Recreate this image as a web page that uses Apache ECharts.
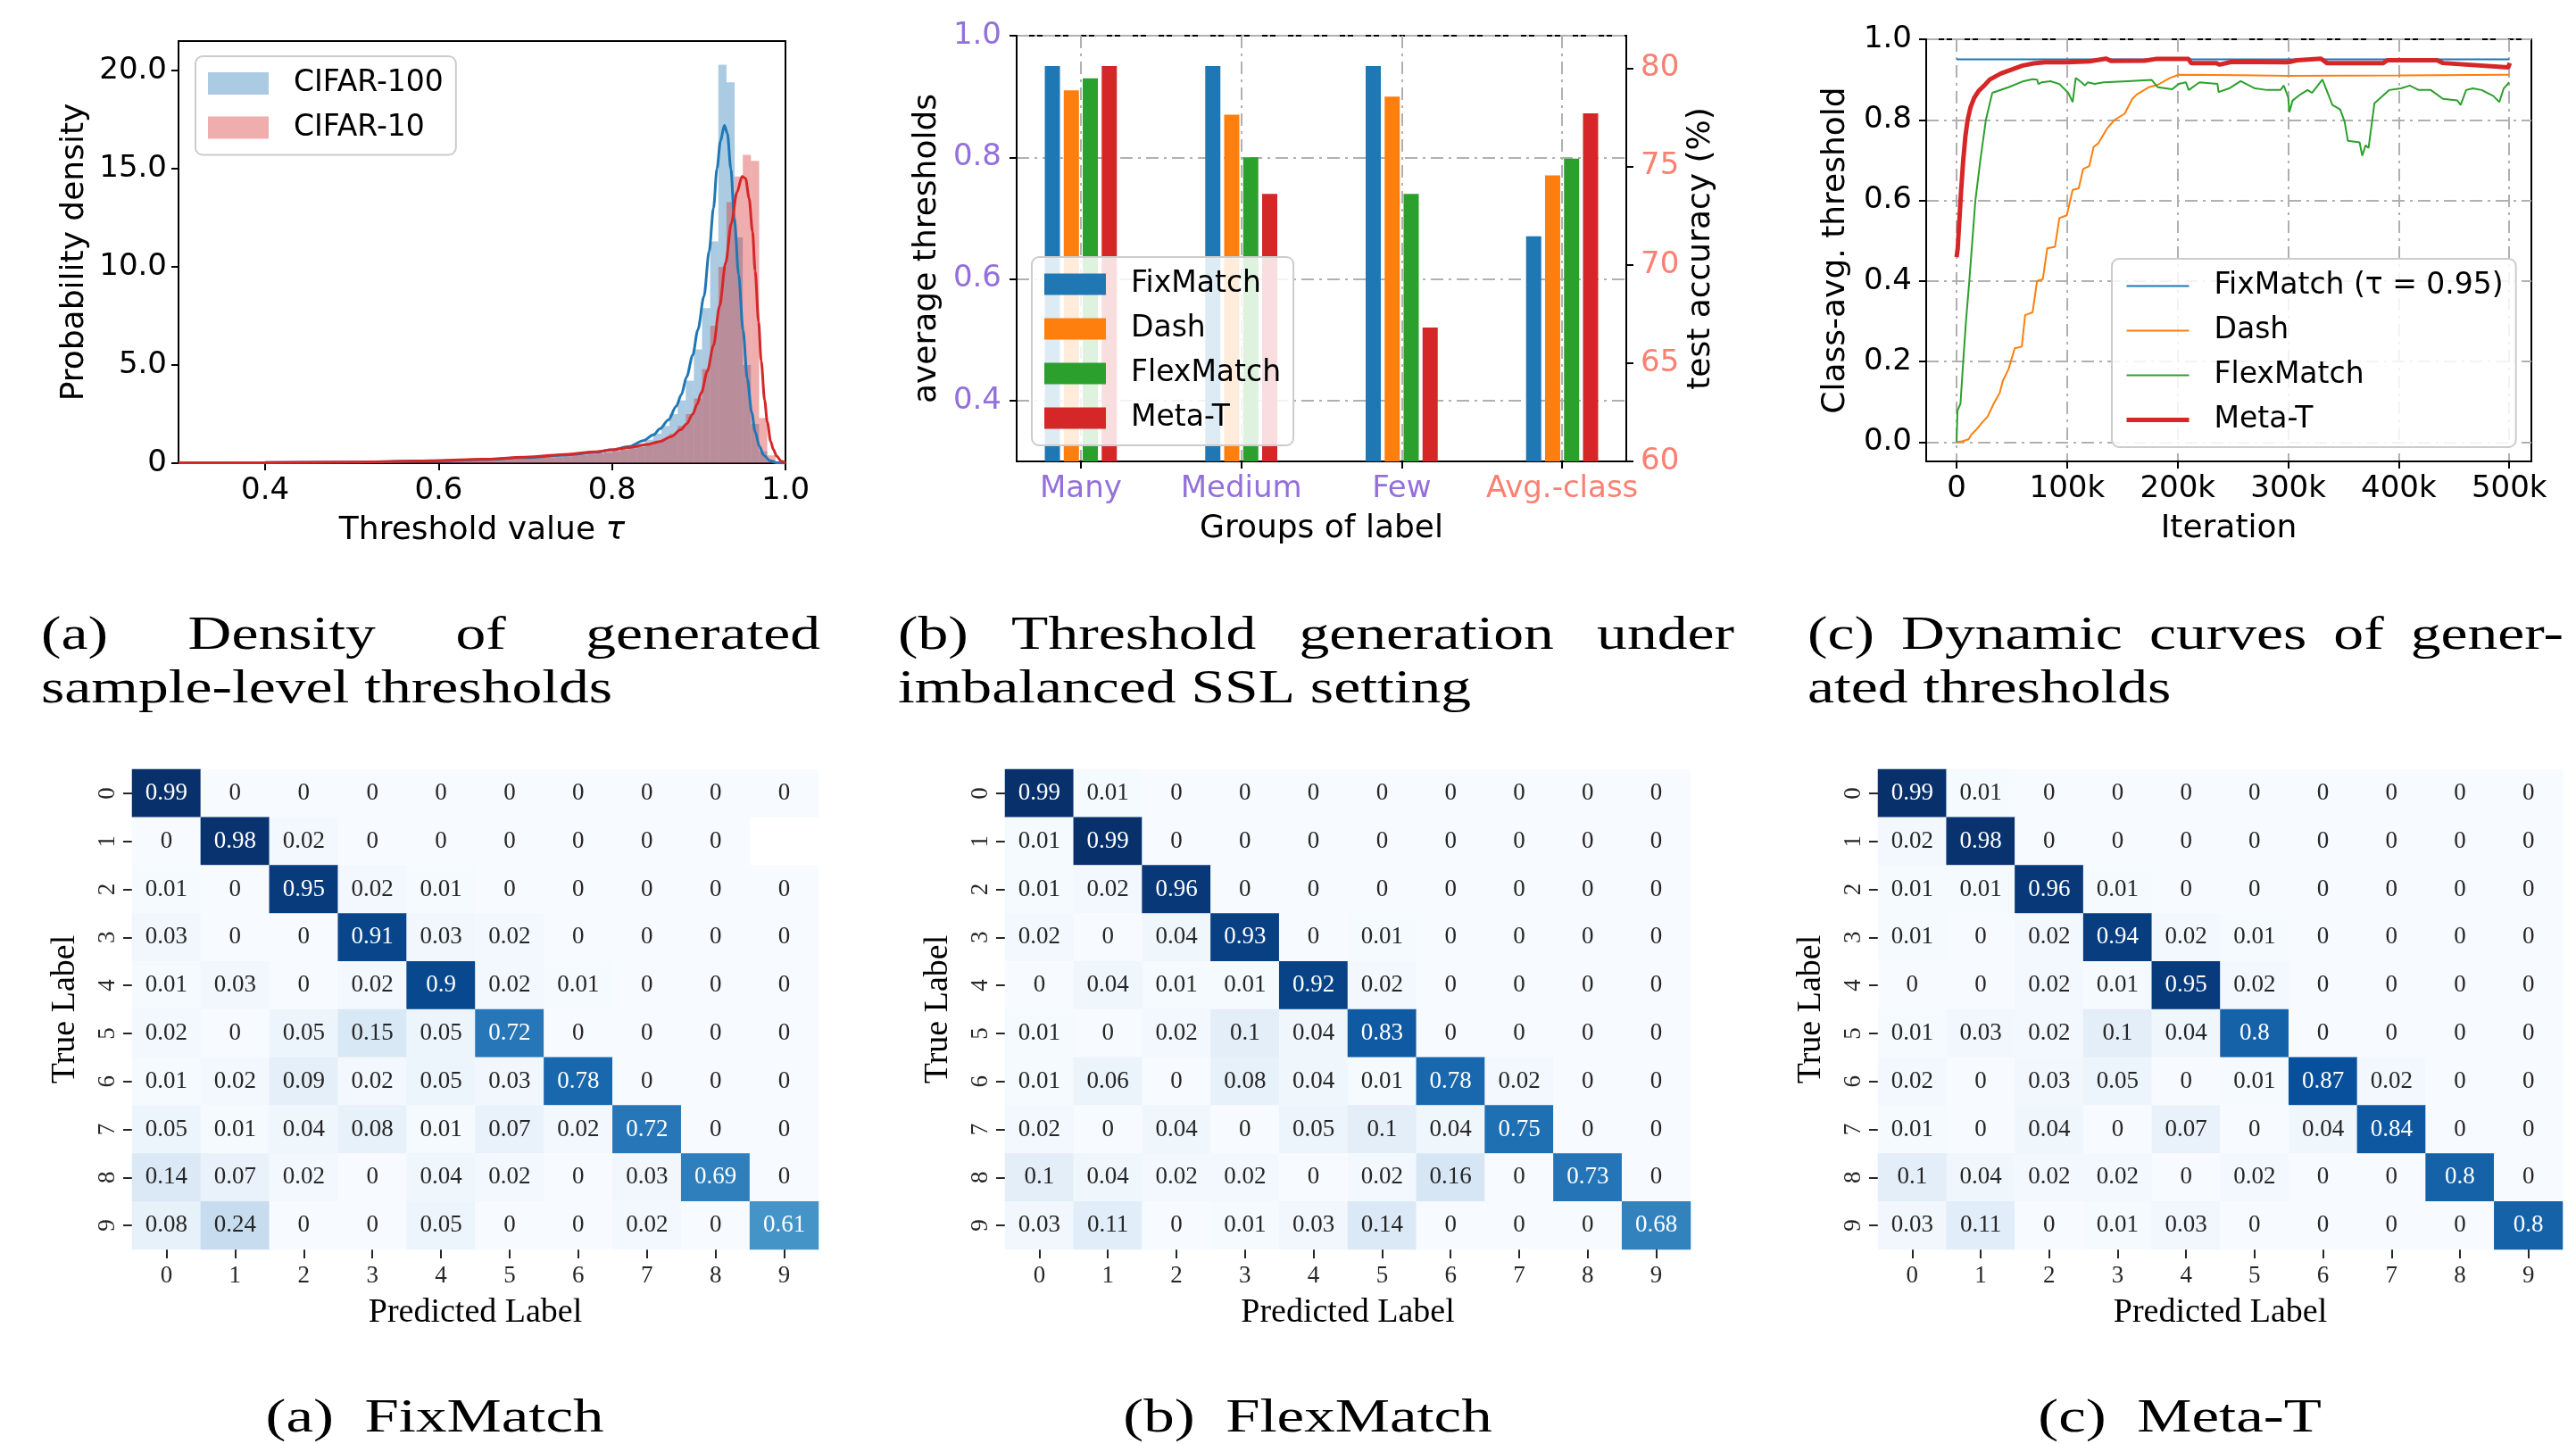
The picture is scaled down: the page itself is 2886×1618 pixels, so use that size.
<!DOCTYPE html>
<html><head><meta charset="utf-8">
<script src="https://cdn.jsdelivr.net/npm/echarts@6/dist/echarts.min.js"></script>
<style>html,body{margin:0;padding:0;background:#fff}#c{width:2886px;height:1618px}</style>
</head><body><div id="c"></div>
<script>
// ================= DATA =================
// (a) density of generated thresholds
const densityXTicks = [0.4, 0.6, 0.8, 1.0];
const densityXTickLabels = ['0.4', '0.6', '0.8', '1.0'];
const densityYTicks = [0, 5, 10, 15, 20];
const densityYTickLabels = ['0', '5.0', '10.0', '15.0', '20.0'];
const histBinStart = 0.5278;
const histBinWidth = 0.0094;
const histCifar100 = [0.06,0.06,0.07,0.07,0.08,0.08,0.09,0.10,0.10,0.11,
  0.12,0.13,0.14,0.15,0.16,0.18,0.20,0.21,0.23,0.25,
  0.27,0.29,0.31,0.34,0.37,0.41,0.45,0.50,0.56,0.63,
  0.72,0.83,0.98,1.2,1.5,1.9,2.5,3.2,4.2,5.8,
  7.9,11.3,20.3,19.4,11.5,5.0,2.0,0.6,0.15,0.03];
const histCifar10 = [0.06,0.06,0.07,0.07,0.08,0.09,0.09,0.10,0.11,0.12,
  0.13,0.14,0.15,0.17,0.18,0.20,0.22,0.24,0.26,0.28,
  0.30,0.32,0.35,0.38,0.41,0.44,0.48,0.52,0.57,0.62,
  0.68,0.75,0.82,0.92,1.05,1.25,1.5,1.9,2.5,3.3,
  4.8,7.0,10.0,13.3,14.6,15.7,15.4,2.3,0.4,0.05];
const kdeCifar100 = [[0.30,0.02],[0.40,0.03],[0.50,0.06],[0.60,0.12],[0.65,0.18],[0.70,0.28],[0.75,0.42],[0.78,0.55],[0.80,0.68],[0.82,0.85],[0.836,1.15],[0.848,1.45],[0.855,1.75],[0.865,2.2],[0.874,2.9],[0.88,3.5],[0.886,4.4],[0.893,5.5],[0.899,6.8],[0.906,8.5],[0.912,10.8],[0.917,13.0],[0.921,15.0],[0.925,16.4],[0.9295,17.2],[0.933,16.8],[0.937,15.0],[0.941,12.5],[0.946,9.6],[0.951,6.8],[0.956,4.3],[0.961,2.6],[0.965,1.6],[0.970,0.85],[0.975,0.4],[0.982,0.13],[0.990,0.02],[1.0,0.0]];
const kdeCifar10 = [[0.30,0.02],[0.40,0.03],[0.50,0.06],[0.60,0.13],[0.65,0.2],[0.70,0.31],[0.75,0.46],[0.78,0.58],[0.80,0.68],[0.82,0.8],[0.84,0.95],[0.855,1.1],[0.868,1.35],[0.879,1.7],[0.886,2.0],[0.893,2.5],[0.898,3.0],[0.903,3.6],[0.91,4.7],[0.917,6.0],[0.924,8.0],[0.931,10.2],[0.9375,12.2],[0.944,13.8],[0.950,14.6],[0.954,14.5],[0.958,13.5],[0.962,11.8],[0.965,9.8],[0.969,7.2],[0.972,5.2],[0.976,3.2],[0.979,2.1],[0.983,1.1],[0.986,0.7],[0.990,0.35],[0.995,0.1],[1.0,0.0]];

// (b) threshold generation under imbalanced SSL
const groupLabels = ['Many', 'Medium', 'Few', 'Avg.-class'];
const methods = ['FixMatch', 'Dash', 'FlexMatch', 'Meta-T'];
const thrFixMatch = [0.95, 0.95, 0.95];
const thrDash = [0.91, 0.87, 0.90];
const thrFlexMatch = [0.93, 0.80, 0.74];
const thrMetaT = [0.95, 0.74, 0.52];
const accAvgClass = [71.45, 74.55, 75.4, 77.7]; // FixMatch, Dash, FlexMatch, Meta-T
const thrTicks = [0.4, 0.6, 0.8, 1.0];
const thrTickLabels = ['0.4', '0.6', '0.8', '1.0'];
const accTicks = [60, 65, 70, 75, 80];
const accTickLabels = ['60', '65', '70', '75', '80'];

// (c) dynamic curves (iteration in thousands)
const iterTicks = [0, 100, 200, 300, 400, 500];
const iterTickLabels = ['0', '100k', '200k', '300k', '400k', '500k'];
const curveYTicks = [0, 0.2, 0.4, 0.6, 0.8, 1.0];
const curveYTickLabels = ['0.0', '0.2', '0.4', '0.6', '0.8', '1.0'];
const curveFixMatch = [[0,0.95],[500,0.95]];
const curveDash = [[0,0],[5,0.002],[10.8,0.007],[13.5,0.019],[17.5,0.03],[23,0.048],[28,0.063],[33.7,0.096],[39,0.122],[41.8,0.152],[47,0.181],[52.6,0.233],[59,0.237],[62,0.315],[68.7,0.322],[72.8,0.40],[78,0.404],[82,0.481],[89,0.485],[93,0.556],[99.7,0.563],[105,0.626],[110.5,0.63],[114.5,0.678],[120,0.685],[124,0.733],[128,0.741],[136,0.778],[143,0.80],[152,0.815],[159,0.852],[163,0.863],[174,0.881],[182,0.887],[193,0.904],[201,0.912],[257,0.911],[300,0.909],[400,0.91],[500,0.912]];
const curveFlexMatch = [[0,0],[0.8,0.078],[3.5,0.095],[6,0.2],[8.5,0.3],[11.5,0.4],[17,0.6],[21.5,0.7],[26.5,0.8],[32.3,0.867],[47,0.881],[60.6,0.896],[68.7,0.901],[72.8,0.90],[74,0.889],[76.8,0.893],[85,0.896],[93,0.889],[101,0.867],[105,0.844],[107.8,0.904],[113,0.893],[116,0.885],[118.6,0.893],[125,0.889],[133,0.893],[155,0.896],[176.5,0.899],[182,0.881],[195,0.876],[201,0.889],[207.5,0.893],[210,0.874],[219.7,0.893],[236,0.889],[237,0.869],[246.6,0.878],[257,0.896],[270,0.878],[281,0.874],[293,0.874],[296,0.885],[300,0.856],[301,0.819],[304,0.848],[311,0.863],[317.5,0.874],[321.5,0.867],[331,0.90],[340,0.837],[347,0.826],[351,0.796],[354,0.748],[364.6,0.744],[367,0.711],[370,0.737],[372.7,0.73],[378,0.841],[391.5,0.874],[402,0.878],[410,0.885],[418,0.874],[429,0.874],[440,0.852],[453,0.848],[456,0.837],[461,0.874],[467,0.878],[475,0.874],[485.7,0.859],[491,0.844],[495,0.878],[500,0.893]];
const curveMetaT = [[0,0.459],[1,0.48],[2.5,0.55],[4,0.62],[6,0.70],[8,0.76],[10,0.80],[12.5,0.83],[16,0.855],[20,0.872],[25,0.885],[30,0.90],[40,0.915],[50,0.925],[60,0.935],[70,0.94],[80,0.943],[100,0.943],[120,0.945],[135,0.952],[140,0.946],[170,0.947],[180,0.951],[210,0.951],[212,0.941],[235,0.941],[238,0.937],[249,0.944],[300,0.943],[308,0.948],[329.6,0.952],[335,0.941],[386,0.941],[390,0.948],[434.5,0.948],[440,0.941],[499,0.930],[500.5,0.941]];

// confusion matrices (rows: true label, cols: predicted label); null = blank cell
const cmLabels = ['0','1','2','3','4','5','6','7','8','9'];
const cmFixMatch = [
  [0.99,0,0,0,0,0,0,0,0,0],
  [0,0.98,0.02,0,0,0,0,0,0,null],
  [0.01,0,0.95,0.02,0.01,0,0,0,0,0],
  [0.03,0,0,0.91,0.03,0.02,0,0,0,0],
  [0.01,0.03,0,0.02,0.9,0.02,0.01,0,0,0],
  [0.02,0,0.05,0.15,0.05,0.72,0,0,0,0],
  [0.01,0.02,0.09,0.02,0.05,0.03,0.78,0,0,0],
  [0.05,0.01,0.04,0.08,0.01,0.07,0.02,0.72,0,0],
  [0.14,0.07,0.02,0,0.04,0.02,0,0.03,0.69,0],
  [0.08,0.24,0,0,0.05,0,0,0.02,0,0.61]];
const cmFlexMatch = [
  [0.99,0.01,0,0,0,0,0,0,0,0],
  [0.01,0.99,0,0,0,0,0,0,0,0],
  [0.01,0.02,0.96,0,0,0,0,0,0,0],
  [0.02,0,0.04,0.93,0,0.01,0,0,0,0],
  [0,0.04,0.01,0.01,0.92,0.02,0,0,0,0],
  [0.01,0,0.02,0.1,0.04,0.83,0,0,0,0],
  [0.01,0.06,0,0.08,0.04,0.01,0.78,0.02,0,0],
  [0.02,0,0.04,0,0.05,0.1,0.04,0.75,0,0],
  [0.1,0.04,0.02,0.02,0,0.02,0.16,0,0.73,0],
  [0.03,0.11,0,0.01,0.03,0.14,0,0,0,0.68]];
const cmMetaT = [
  [0.99,0.01,0,0,0,0,0,0,0,0],
  [0.02,0.98,0,0,0,0,0,0,0,0],
  [0.01,0.01,0.96,0.01,0,0,0,0,0,0],
  [0.01,0,0.02,0.94,0.02,0.01,0,0,0,0],
  [0,0,0.02,0.01,0.95,0.02,0,0,0,0],
  [0.01,0.03,0.02,0.1,0.04,0.8,0,0,0,0],
  [0.02,0,0.03,0.05,0,0.01,0.87,0.02,0,0],
  [0.01,0,0.04,0,0.07,0,0.04,0.84,0,0],
  [0.1,0.04,0.02,0.02,0,0.02,0,0,0.8,0],
  [0.03,0.11,0,0.01,0.03,0,0,0,0,0.8]];

// ================= STYLE =================
const C_BLUE = '#1f77b4', C_ORANGE = '#ff7f0e', C_GREEN = '#2ca02c', C_RED = '#d62728';
const methodColors = [C_BLUE, C_ORANGE, C_GREEN, C_RED];
const PURPLE = '#9370DB', SALMON = '#FA8072';
const SANS = 'DejaVu Sans', SERIF = 'Liberation Serif';
const BLUES = ['#f7fbff','#deebf7','#c6dbef','#9ecae1','#6baed6','#4292c6','#2171b5','#08519c','#08306b'];
const gridLine = {show: true, lineStyle: {color: '#b0b0b0', width: 2, type: [14, 6, 3, 6]}};
const blackLine = {show: true, onZero: false, lineStyle: {color: '#000', width: 2}};
const tick = {show: true, length: 8, lineStyle: {color: '#000', width: 2}};
const TICK_FS = 34, NAME_FS = 36;
const lbl = (extra) => Object.assign({fontFamily: SANS, fontSize: TICK_FS, color: '#000'}, extra);
const nameStyle = {fontFamily: SANS, fontSize: NAME_FS, color: '#000'};
const legendBox = {backgroundColor: 'rgba(255,255,255,0.85)', borderColor: '#cccccc', borderWidth: 2, borderRadius: 8, selectedMode: false, orient: 'vertical'};
const legendText = {fontFamily: SANS, fontSize: 33, color: '#000', lineHeight: 33, padding: [0, 0, 0, 23]};

function pick(ticks, labels) { return v => { const i = ticks.findIndex(t => Math.abs(t - v) < 1e-9); return i >= 0 ? labels[i] : ''; }; }

// ================= OPTION =================
const grids = [
  {left: 200, top: 46, width: 680, height: 473},
  {left: 1139, top: 40, width: 683, height: 477},
  {left: 2158, top: 44, width: 678, height: 473},
  {left: 148, top: 862, width: 769, height: 538},
  {left: 1126, top: 862, width: 768, height: 538},
  {left: 2104, top: 862, width: 767, height: 538}
].map((g, i) => Object.assign({show: i < 3, borderColor: '#000', borderWidth: 2, backgroundColor: 'transparent', containLabel: false, outerBoundsMode: 'none'}, g));

const xAxes = [
  {gridIndex: 0, type: 'value', min: 0.3, max: 1.0, axisLine: blackLine, splitLine: {show: false},
   axisTick: Object.assign({customValues: densityXTicks}, tick),
   axisLabel: lbl({customValues: densityXTicks, formatter: pick(densityXTicks, densityXTickLabels), margin: 14}),
   name: 'Threshold value {i|τ}', nameLocation: 'middle', nameGap: 58, nameMoveOverlap: false,
   nameTextStyle: Object.assign({rich: {i: {fontFamily: SANS, fontSize: NAME_FS, fontStyle: 'italic', color: '#000'}}}, nameStyle)},
  {gridIndex: 1, type: 'value', min: -0.4, max: 3.4, axisLine: blackLine, splitLine: gridLine,
   axisTick: Object.assign({customValues: [0, 1, 2, 3]}, tick),
   axisLabel: lbl({customValues: [0, 1, 2, 3], formatter: v => groupLabels[Math.round(v)], margin: 14,
     color: (v) => (Math.round(v) === 3 || v === 'Avg.-class') ? SALMON : PURPLE}),
   name: 'Groups of label', nameLocation: 'middle', nameGap: 58, nameMoveOverlap: false, nameTextStyle: nameStyle},
  {gridIndex: 1, type: 'value', min: -0.4, max: 3.4, show: false, axisLine: {show: false, onZero: false}},
  {gridIndex: 2, type: 'value', min: -27.5, max: 520, axisLine: blackLine, splitLine: gridLine,
   axisTick: Object.assign({customValues: iterTicks}, tick),
   axisLabel: lbl({customValues: iterTicks, formatter: pick(iterTicks, iterTickLabels), margin: 14}),
   name: 'Iteration', nameLocation: 'middle', nameGap: 58, nameMoveOverlap: false, nameTextStyle: nameStyle}
];
const yAxes = [
  {gridIndex: 0, type: 'value', min: 0, max: 21.5, axisLine: blackLine, splitLine: {show: false},
   axisTick: Object.assign({customValues: densityYTicks}, tick),
   axisLabel: lbl({customValues: densityYTicks, formatter: pick(densityYTicks, densityYTickLabels), margin: 13}),
   name: 'Probability density', nameLocation: 'middle', nameRotate: 90, nameGap: 98, nameMoveOverlap: false, nameTextStyle: nameStyle},
  {gridIndex: 1, type: 'value', min: 0.3, max: 1.0, axisLine: blackLine, splitLine: gridLine,
   axisTick: Object.assign({customValues: thrTicks}, tick),
   axisLabel: lbl({customValues: thrTicks, formatter: pick(thrTicks, thrTickLabels), margin: 17, color: PURPLE}),
   name: 'average thresholds', nameLocation: 'middle', nameRotate: 90, nameGap: 82, nameMoveOverlap: false, nameTextStyle: nameStyle},
  {gridIndex: 1, type: 'value', position: 'right', min: 60, max: 81.65, axisLine: blackLine, splitLine: {show: false},
   axisTick: Object.assign({customValues: accTicks}, tick),
   axisLabel: lbl({customValues: accTicks, formatter: pick(accTicks, accTickLabels), margin: 16, color: SALMON}),
   name: 'test accuracy (%)', nameLocation: 'middle', nameRotate: 90, nameGap: 66, nameMoveOverlap: false, nameTextStyle: nameStyle},
  {gridIndex: 2, type: 'value', min: -0.048, max: 1.0, axisLine: blackLine, splitLine: gridLine,
   axisTick: Object.assign({customValues: curveYTicks}, tick),
   axisLabel: lbl({customValues: curveYTicks, formatter: pick(curveYTicks, curveYTickLabels), margin: 16}),
   name: 'Class-avg. threshold', nameLocation: 'middle', nameRotate: 90, nameGap: 83, nameMoveOverlap: false, nameTextStyle: nameStyle}
];
// heatmap axes
const hmTick = {show: true, alignWithLabel: true, length: 10, lineStyle: {color: '#262626', width: 2}};
const hmLabel = {fontFamily: SERIF, fontSize: 27, color: '#262626', interval: 0};
const hmName = {fontFamily: SERIF, fontSize: 38, color: '#000'};
[3, 4, 5].forEach(g => {
  xAxes.push({gridIndex: g, type: 'category', data: cmLabels, axisLine: {show: false, onZero: false}, splitLine: {show: false},
    axisTick: hmTick, axisLabel: Object.assign({margin: 16}, hmLabel),
    name: 'Predicted Label', nameLocation: 'middle', nameGap: 52, nameMoveOverlap: false, nameTextStyle: hmName});
  yAxes.push({gridIndex: g, type: 'category', data: cmLabels, inverse: true, axisLine: {show: false, onZero: false}, splitLine: {show: false},
    axisTick: hmTick, axisLabel: Object.assign({margin: 14, rotate: 90}, hmLabel),
    name: 'True Label', nameLocation: 'middle', nameRotate: 90, nameGap: 56, nameMoveOverlap: false, nameTextStyle: hmName});
});

const series = [];
// (a) histograms + KDE
function histSeries(name, heights, fill) {
  return {type: 'custom', name, xAxisIndex: 0, yAxisIndex: 0, itemStyle: {color: fill},
    data: heights.map((h, i) => [histBinStart + i * histBinWidth, histBinStart + (i + 1) * histBinWidth, h]),
    encode: {x: [0, 1], y: 2},
    renderItem: (params, api) => {
      const p0 = api.coord([api.value(0), 0]);
      const p1 = api.coord([api.value(1), api.value(2)]);
      return {type: 'rect', shape: {x: p0[0], y: p1[1], width: p1[0] - p0[0], height: p0[1] - p1[1]}, style: {fill}};
    }};
}
function kdeSeries(name, data, color) {
  return {type: 'line', name, xAxisIndex: 0, yAxisIndex: 0, data, symbol: 'none', smooth: 0.3, smoothMonotone: 'x',
    lineStyle: {color, width: 3}, itemStyle: {color}};
}
series.push(histSeries('CIFAR-100', histCifar100, 'rgba(31,119,180,0.38)'));
series.push(kdeSeries('CIFAR-100 kde', kdeCifar100, C_BLUE));
series.push(histSeries('CIFAR-10', histCifar10, 'rgba(214,39,40,0.38)'));
series.push(kdeSeries('CIFAR-10 kde', kdeCifar10, C_RED));

// (b) bars
const thrByMethod = [thrFixMatch, thrDash, thrFlexMatch, thrMetaT];
methods.forEach((m, k) => {
  series.push({type: 'bar', name: m, xAxisIndex: 1, yAxisIndex: 1, barWidth: 17, barGap: '25%',
    itemStyle: {color: methodColors[k]}, data: thrByMethod[k].map((v, i) => [i, v])});
});
methods.forEach((m, k) => {
  series.push({type: 'bar', name: m, xAxisIndex: 2, yAxisIndex: 2, barWidth: 17, barGap: '25%',
    itemStyle: {color: methodColors[k]}, data: [[3, accAvgClass[k]]]});
});

// (c) curves
const curveSets = [
  ['FixMatch (τ = 0.95)', curveFixMatch, C_BLUE, 2],
  ['Dash#c', curveDash, C_ORANGE, 2],
  ['FlexMatch#c', curveFlexMatch, C_GREEN, 2],
  ['Meta-T#c', curveMetaT, C_RED, 5]
];
curveSets.forEach(([n, d, c, w]) => {
  series.push({type: 'line', name: n, xAxisIndex: 3, yAxisIndex: 3, data: d, symbol: 'none',
    lineStyle: {color: c, width: w}, itemStyle: {color: c}});
});

// heatmaps
const hmSeriesIdx = [];
[cmFixMatch, cmFlexMatch, cmMetaT].forEach((m, k) => {
  const data = [];
  m.forEach((row, r) => row.forEach((v, c) => {
    if (v === null) return;
    data.push({value: [c, r, v], label: {color: v > 0.45 ? '#ffffff' : '#262626'}});
  }));
  hmSeriesIdx.push(series.length);
  series.push({type: 'heatmap', xAxisIndex: 4 + k, yAxisIndex: 4 + k, data,
    label: {show: true, fontFamily: SERIF, fontSize: 27, formatter: p => String(p.value[2])},
    itemStyle: {borderWidth: 0}, emphasis: {disabled: true}});
});

// captions
const measureCtx = document.createElement('canvas').getContext('2d');
const CAP_SX = 1.3;
function capFont(size) { return size + 'px "' + SERIF + '"'; }
function wordWidth(w, size) { measureCtx.font = capFont(size); return measureCtx.measureText(w).width * CAP_SX; }
function capText(text, x, y, size, align) {
  return {type: 'text', x, y, scaleX: CAP_SX, scaleY: 1, originX: 0, originY: 0,
    style: {text, font: capFont(size), fill: '#000', textAlign: align || 'left', textVerticalAlign: 'middle', verticalAlign: 'middle'}};
}
function justified(words, x0, x1, y, size) {
  const ws = words.map(w => wordWidth(w, size));
  const gap = (x1 - x0 - ws.reduce((a, b) => a + b, 0)) / (words.length - 1);
  let x = x0;
  return words.map((w, i) => { const el = capText(w, x, y, size); x += ws[i] + gap; return el; });
}
const CS = 52, L1 = 713, L2 = 773;
const graphics = [].concat(
  justified(['(a)', 'Density', 'of', 'generated'], 46, 919, L1, CS),
  [capText('sample-level thresholds', 46, L2, CS)],
  justified(['(b)', 'Threshold', 'generation', 'under'], 1006, 1943, L1, CS),
  [capText('imbalanced SSL setting', 1006, L2, CS)],
  justified(['(c)', 'Dynamic', 'curves', 'of', 'gener-'], 2025, 2872, L1, CS),
  [capText('ated thresholds', 2025, L2, CS)],
  [capText('(a)  FixMatch', 487, 1590, 53, 'center'),
   capText('(b)  FlexMatch', 1465, 1590, 53, 'center'),
   capText('(c)  Meta-T', 2442, 1590, 53, 'center')]
);

const option = {
  animation: false,
  backgroundColor: '#ffffff',
  grid: grids,
  xAxis: xAxes,
  yAxis: yAxes,
  legend: [
    Object.assign({left: 219, top: 63, padding: 14, itemWidth: 68, itemHeight: 25, itemGap: 16.5, icon: 'rect', textStyle: legendText,
      data: [{name: 'CIFAR-100', itemStyle: {color: 'rgba(31,119,180,0.38)'}}, {name: 'CIFAR-10', itemStyle: {color: 'rgba(214,39,40,0.38)'}}]}, legendBox),
    Object.assign({left: 1156, top: 288, padding: 14, itemWidth: 69, itemHeight: 24, itemGap: 17, icon: 'rect', textStyle: legendText,
      data: methods}, legendBox),
    Object.assign({left: 2366, top: 290, padding: 14, itemWidth: 70, itemHeight: 14, itemGap: 17, textStyle: legendText,
      formatter: n => n.replace('#c', ''),
      itemStyle: {opacity: 0},
      data: curveSets.map(s => ({name: s[0], itemStyle: {opacity: 0}, lineStyle: {width: s[3], color: s[2]}}))}, legendBox)
  ],
  visualMap: hmSeriesIdx.map(si => ({type: 'continuous', show: false, seriesIndex: si, dimension: 2, min: 0, max: 0.99, inRange: {color: BLUES}})),
  graphic: graphics,
  series
};
const chart = echarts.init(document.getElementById('c'), null, {renderer: 'canvas'});
chart.setOption(option);
</script>
</body></html>
